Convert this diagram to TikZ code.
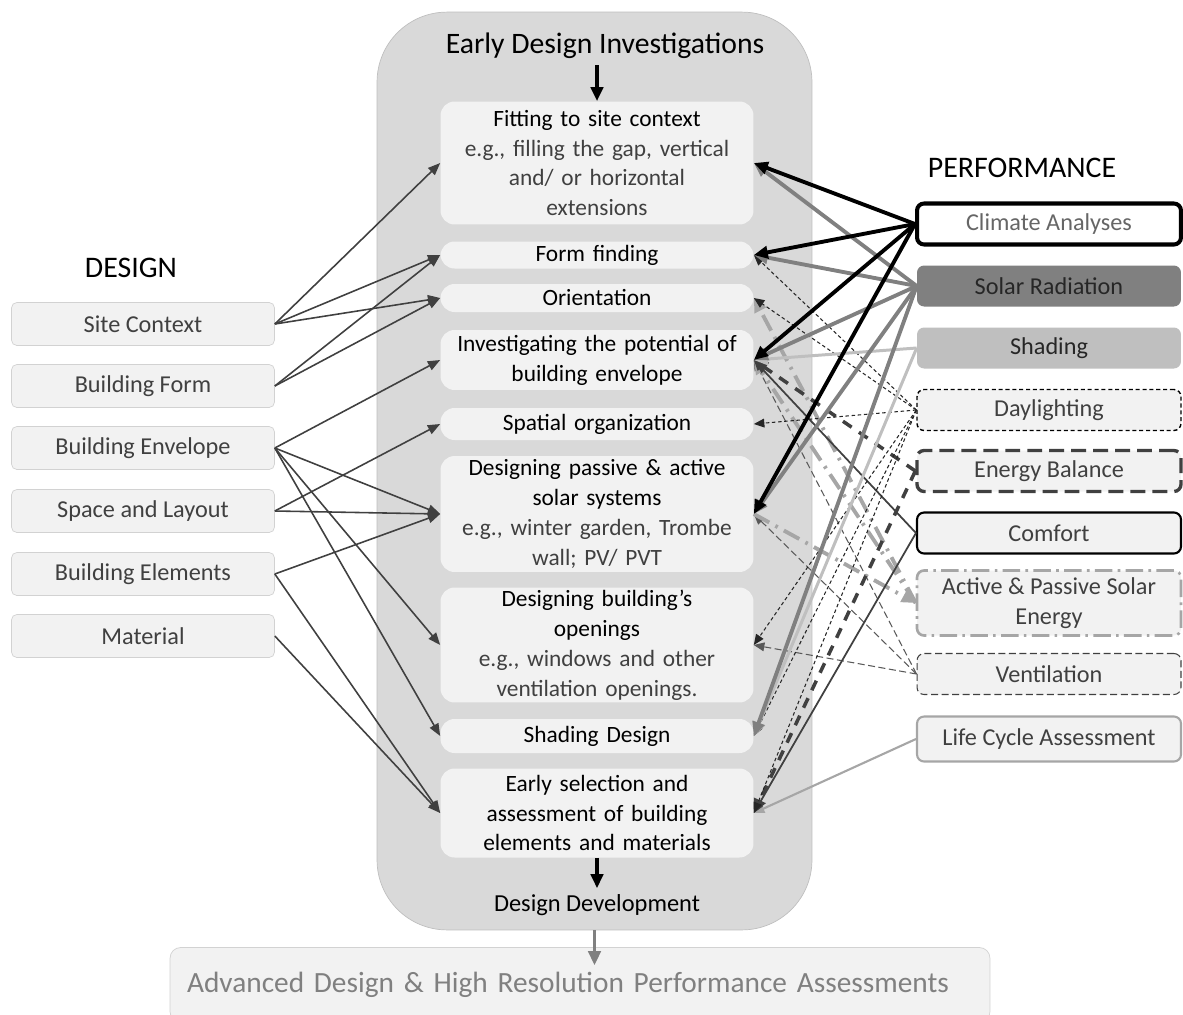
\documentclass[tikz,border=0pt]{standalone}
\usepackage{fontspec}
\setmainfont{Carlito}
\usetikzlibrary{arrows.meta}
\begin{document}
\begin{tikzpicture}[x=0.02cm, y=-0.02cm,
    leftbox/.style={draw=edgegray, fill=boxgray, rounded corners=3pt, minimum width=5.26cm, minimum height=0.86cm, text=txtgray, font=\fontsize{13.8}{16}\selectfont},
    midbox/.style={fill=boxgray, rounded corners=8pt, minimum width=6.26cm, text width=6.2cm, align=center, inner sep=0pt, font=\fontsize{13.3}{17}\selectfont},
    perfbox/.style={fill=boxgray, rounded corners=4pt, minimum width=5.28cm, minimum height=0.82cm, text=txtgray, align=center, font=\fontsize{13.8}{17}\selectfont},
    leftarrow/.style={draw=txtgray, line width=0.9pt, -{Triangle[length=7pt,width=5.5pt]}},
    bigtip/.style={-{Triangle[length=8pt,width=7pt]}},
    smalltip/.style={-{Triangle[length=6pt,width=5pt]}}]
    \definecolor{boxgray}{RGB}{242,242,242}
    \definecolor{edgegray}{RGB}{210,210,210}
    \definecolor{bggray}{RGB}{217,217,217}
    \definecolor{txtgray}{RGB}{64,64,64}
    \definecolor{midgray}{RGB}{128,128,128}
    \definecolor{lightgray}{RGB}{191,191,191}
    \definecolor{palegray}{RGB}{166,166,166}
    \useasboundingbox (0,0) rectangle (1183,1014);
    % bottom box and the big box
    \node[fill=boxgray, draw=edgegray, rounded corners=6pt, minimum width=16.4cm, minimum height=1.5cm, text width=15.72cm, inner xsep=0.34cm, align=left, text=midgray, font=\fontsize{16.7}{18}\selectfont] (adv) at (580,985) {Advanced Design \& High Resolution Performance Assessments};
    \node[draw=lightgray, fill=bggray, rounded corners=1.4cm, minimum width=8.7cm, minimum height=18.36cm] (early) at (594.5,471) {};
    \draw[draw=midgray, line width=2.2pt, bigtip] (early.south) -- ++(0,35);
    \node[font=\fontsize{16.9}{19}\selectfont] (title) at (605,46) {Early Design Investigations};
    % design side
    \node[font=\fontsize{17}{19}\selectfont] (design) at (131,268) {DESIGN};
    \node[leftbox] (site) at (143,324) {Site Context};
    \node[leftbox] (bform) at (143,386) {Building Form};
    \node[leftbox] (benv) at (143,448) {Building Envelope};
    \node[leftbox] (space) at (143,511) {Space and Layout};
    \node[leftbox] (belem) at (143,574) {Building Elements};
    \node[leftbox] (mat) at (143,636) {Material};
    % investigations
    \node[midbox, minimum height=2.46cm] (fit) at (597,163) {Fitting to site context\\\color{txtgray}e.g., filling the gap, vertical\\and/ or horizontal\\extensions};
    \node[midbox, minimum height=0.54cm] (form) at (597,255) {Form finding};
    \node[midbox, minimum height=0.56cm] (ori) at (597,298) {Orientation};
    \node[midbox, minimum height=1.2cm] (inv) at (597,360) {Investigating the potential of\\building envelope};
    \node[midbox, minimum height=0.64cm] (spa) at (597,424) {Spatial organization};
    \node[midbox, minimum height=2.32cm] (pas) at (597,514) {Designing passive \& active\\solar systems\\\color{txtgray}e.g., winter garden, Trombe\\wall; PV/ PVT};
    \node[midbox, minimum height=2.3cm] (ope) at (597,645) {Designing building's\\openings\\\color{txtgray}e.g., windows and other\\ventilation openings.};
    \node[midbox, minimum height=0.68cm] (shd) at (597,736) {Shading Design};
    \node[midbox, minimum height=1.78cm] (ear) at (597,813) {Early selection and\\assessment of building\\elements and materials};
    \node[font=\fontsize{13.9}{16}\selectfont] (dev) at (597,905) {Design Development};
    \draw[line width=2pt, bigtip] (fit.north |- title.south) -- (fit.north);
    \draw[line width=2pt, bigtip] (ear.south) -- (dev.north);
    % performance side
    \node[font=\fontsize{17}{19}\selectfont] (perf) at (1022,168) {PERFORMANCE};
    \node[perfbox, fill=white, draw=black, line width=2.3pt, text=txtgray!80] (clim) at (1049,224) {Climate Analyses};
    \node[perfbox, fill=midgray, text=black!85] (solar) at (1049,286) {Solar Radiation};
    \node[perfbox, fill=lightgray, text=black!85] (shad) at (1049,348) {Shading};
    \node[perfbox, draw=black, line width=0.8pt, dash pattern=on 2.3pt off 1.6pt] (day) at (1049,410) {Daylighting};
    \node[perfbox, draw=txtgray, line width=1.9pt, dash pattern=on 8.5pt off 4pt] (ener) at (1049,471) {Energy Balance};
    \node[perfbox, draw=black, line width=1.2pt] (comf) at (1049,533) {Comfort};
    \node[perfbox, minimum height=1.3cm, draw=palegray, line width=1.5pt, dash pattern=on 10pt off 3pt on 1.5pt off 3pt] (ap) at (1049,603) {Active \& Passive Solar\\Energy};
    \node[perfbox, draw=txtgray, line width=0.6pt, dash pattern=on 4pt off 2pt] (vent) at (1049,674) {Ventilation};
    \node[perfbox, minimum height=0.9cm, draw=palegray, line width=1.2pt] (lca) at (1049,739) {Life Cycle Assessment};
    % design to investigations
    \foreach \a/\b in {site/fit, site/form, site/ori, bform/form, bform/ori, benv/inv, benv/pas, benv/ope, benv/shd, space/spa, space/pas, belem/pas, belem/ear, mat/ear}
        \draw[leftarrow] (\a.east) -- (\b.west);
    % performance to investigations
    \draw[draw=palegray, line width=1.2pt, smalltip] (lca.west) -- (ear.east);
    \foreach \b in {inv, pas, ope}
        \draw[draw=black!65, line width=0.6pt, dash pattern=on 4pt off 2pt, smalltip] (vent.west) -- (\b.east);
    \foreach \b in {ori, inv}
        \draw[draw=palegray, line width=2.2pt, dash pattern=on 10pt off 4pt on 1.5pt off 4pt, bigtip] (ap.west) -- (\b.east);
    \draw[draw=palegray, line width=2.2pt, dash pattern=on 10pt off 4pt on 1.5pt off 4pt, bigtip] (pas.east) -- (ap.west);
    \foreach \b in {inv, ear}
        \draw[draw=txtgray, line width=1pt, smalltip] (comf.west) -- (\b.east);
    \foreach \b in {inv, ear}
        \draw[draw=txtgray, line width=2pt, dash pattern=on 6pt off 5pt, bigtip] (ener.west) -- (\b.east);
    \foreach \b in {form, ori, spa, ope, shd, ear}
        \draw[draw=black!85, line width=0.6pt, dash pattern=on 2pt off 1.5pt, smalltip] (day.west) -- (\b.east);
    \foreach \b in {inv, shd}
        \draw[draw=lightgray, line width=1.7pt, bigtip] (shad.west) -- (\b.east);
    \foreach \b in {fit, form, inv, pas, shd}
        \draw[draw=midgray, line width=2.2pt, bigtip] (solar.west) -- (\b.east);
    \foreach \b in {fit, form, inv, pas}
        \draw[draw=black, line width=2.2pt, bigtip] (clim.west) -- (\b.east);
\end{tikzpicture}
\end{document}
